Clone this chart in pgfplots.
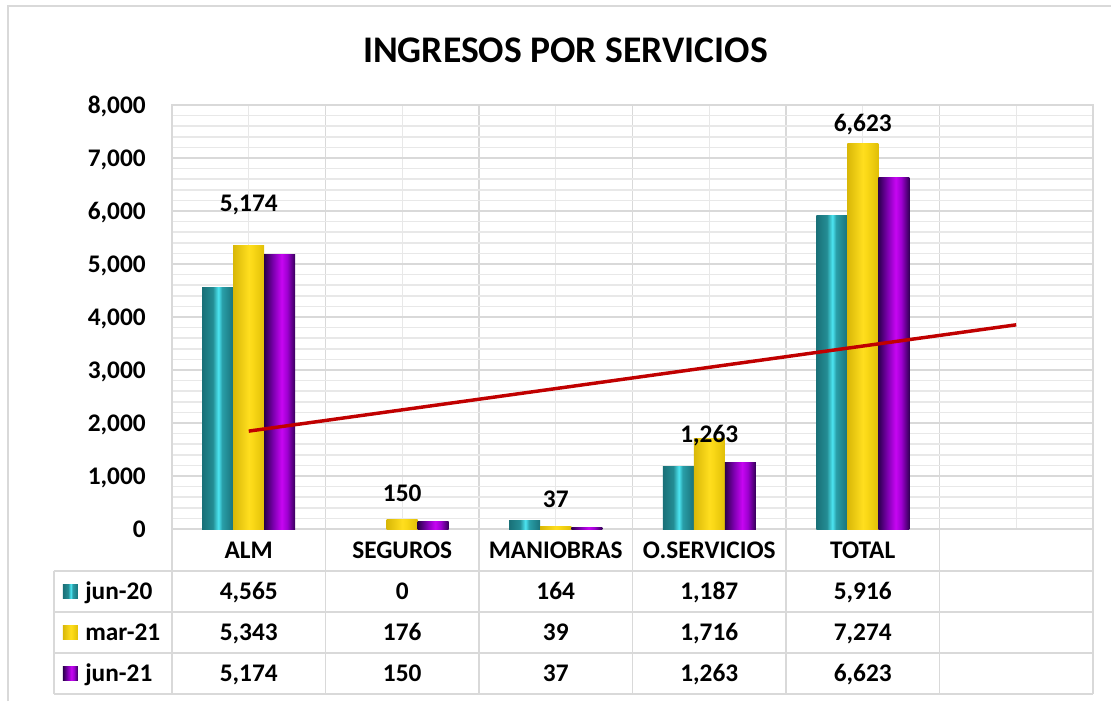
\documentclass[border=0pt]{standalone}
\usepackage{pgfplots}
\usepackage{pgfplotstable}
\pgfplotsset{compat=1.18}
\usepackage{fontspec}
\setmainfont{Carlito}
\definecolor{gridc}{HTML}{D9D9D9}
\definecolor{gridm}{HTML}{E8E8E8}
\definecolor{trendred}{HTML}{C00000}
\pgfdeclarehorizontalshading{tealbar}{100bp}{rgb(0bp)=(0.10,0.44,0.47); rgb(25bp)=(0.10,0.44,0.47); rgb(42bp)=(0.14,0.55,0.58); rgb(51bp)=(0.30,0.90,0.95); rgb(57bp)=(0.16,0.62,0.66); rgb(75bp)=(0.10,0.45,0.48); rgb(100bp)=(0.10,0.45,0.48)}
\pgfdeclarehorizontalshading{yellowbar}{100bp}{rgb(0bp)=(0.85,0.72,0.03); rgb(25bp)=(0.85,0.72,0.03); rgb(50bp)=(1.00,0.87,0.12); rgb(56bp)=(0.98,0.85,0.09); rgb(75bp)=(0.88,0.75,0.03); rgb(100bp)=(0.88,0.75,0.03)}
\pgfdeclarehorizontalshading{purplebar}{100bp}{rgb(0bp)=(0.17,0.00,0.30); rgb(25bp)=(0.17,0.00,0.30); rgb(40bp)=(0.50,0.00,0.70); rgb(53bp)=(0.78,0.02,0.95); rgb(62bp)=(0.62,0.00,0.82); rgb(75bp)=(0.20,0.00,0.34); rgb(100bp)=(0.20,0.00,0.34)}
\newcommand\tf{\bfseries\fontsize{19}{22}\selectfont}

\pgfplotstableread{
x y
0 4565
2 164
3 1187
4 5916
}\junA
\pgfplotstableread{
x y
0 5343
1 176
2 39
3 1716
4 7274
}\marB
\pgfplotstableread{
x y off
0 5174 32
1 150 14.5
2 37 14.5
3 1263 14.5
4 6623 34.7
}\junC

\begin{document}
\begin{tikzpicture}
\begin{axis}[at={(0,0)}, anchor=south west, scale only axis,
  width=690.75pt, height=318pt,
  xmin=-0.5, xmax=5.5, ymin=0, ymax=8000,
  ytick={0,1000,...,8000}, minor y tick num=4,
  xtick={-0.5,0.5,...,5.5}, xticklabels={}, minor xtick={0,1,2,3,4,5},
  grid=both,
  major grid style={draw=gridc, line width=1.1pt},
  minor grid style={draw=gridm, line width=1.1pt},
  axis line style={draw=gridc, line width=1.1pt},
  tick style={draw=none},
  scaled y ticks=false,
  /pgf/number format/1000 sep={,},
  /pgf/number format/assume math mode=true,
  yticklabel style={font=\tf, anchor=east, inner sep=0pt, xshift=-19.5pt, text height=12pt, text depth=0pt},
  clip=false]
\pgfplotsinvokeforeach{0,2,3,4}{
\addplot[ybar, bar width=23.25pt, bar shift=-23.25pt, draw=none, shade, shading=tealbar, restrict x to domain=#1:#1] table[x=x,y=y] {\junA};
}
\pgfplotsinvokeforeach{0,...,4}{
\addplot[ybar, bar width=23.25pt, bar shift=0pt, draw=none, shade, shading=yellowbar, restrict x to domain=#1:#1] table[x=x,y=y] {\marB};
\addplot[ybar, bar width=23.25pt, bar shift=23.25pt, draw=none, shade, shading=purplebar, restrict x to domain=#1:#1] table[x=x,y=y] {\junC};
}
\addplot[sharp plot, draw=trendred, line width=2.6pt, no marks] coordinates {(0,1847) (5,3853)};
\addplot[ybar, bar width=23.25pt, bar shift=23.25pt, draw=none, fill=none,
  visualization depends on={\thisrow{off}\as\myoff},
  nodes near coords,
  every node near coord/.append style={font=\tf, text=black, anchor=south, yshift=\myoff pt, text height=12pt, text depth=0pt, inner sep=0pt}] table[x=x,y=y] {\junC};
\end{axis}
\begin{scope}[shift={(-129pt,396.75pt)}, x=0.75pt, y=-0.75pt]
\draw[gridc, line width=1.1pt] (8,701) -- (8,6) -- (1111,6);
\draw[gridc, line width=1.1pt] (54,571) -- (1093,571) (54,612) -- (1093,612) (54,653) -- (1093,653) (54,694) -- (1093,694) (54,571) -- (54,694);
\foreach \X in {172,325.5,479,632.5,786,939.5,1093} \draw[gridc, line width=1.1pt] (\X,529) -- (\X,694);
\node[font=\bfseries\fontsize{28.2}{34}\selectfont, text height=18pt, text depth=0pt, inner sep=0pt] at (565.5,50.5) {INGRESOS POR SERVICIOS};
\foreach \i/\t in {0/ALM,1/SEGUROS,2/MANIOBRAS,3/O.SERVICIOS,4/TOTAL}
  \node[font=\tf, text height=12pt, text depth=0pt, inner sep=0pt] at ({248.75+153.5*\i},550) {\t};
\foreach \i/\t in {0/{4,565},1/0,2/164,3/{1,187},4/{5,916}}
  \node[font=\tf, text height=12pt, text depth=0pt, inner sep=0pt] at ({248.75+153.5*\i},591.5) {\t};
\foreach \i/\t in {0/{5,343},1/176,2/39,3/{1,716},4/{7,274}}
  \node[font=\tf, text height=12pt, text depth=0pt, inner sep=0pt] at ({248.75+153.5*\i},632.5) {\t};
\foreach \i/\t in {0/{5,174},1/150,2/37,3/{1,263},4/{6,623}}
  \node[font=\tf, text height=12pt, text depth=0pt, inner sep=0pt] at ({248.75+153.5*\i},673.5) {\t};
\path[shade, shading=tealbar] (63,584) rectangle (78,598);
\path[shade, shading=yellowbar] (63,625) rectangle (78,639);
\path[shade, shading=purplebar] (63,666) rectangle (78,680);
\node[font=\tf, anchor=west, text height=12pt, text depth=0pt, inner sep=0pt] at (85,591.5) {jun-20};
\node[font=\tf, anchor=west, text height=12pt, text depth=0pt, inner sep=0pt] at (85,632.5) {mar-21};
\node[font=\tf, anchor=west, text height=12pt, text depth=0pt, inner sep=0pt] at (85,673.5) {jun-21};
\end{scope}
\pgfresetboundingbox
\path[use as bounding box] (-129pt,-129pt) rectangle (704.25pt,396.75pt);
\end{tikzpicture}
\end{document}
